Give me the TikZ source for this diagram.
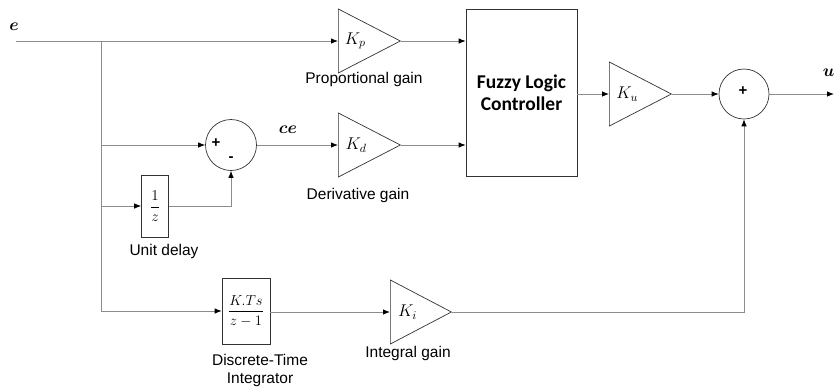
\RequirePackage{fix-cm}
\documentclass[tikz,border=0pt]{standalone}
\usepackage{amsmath}
\usepackage{fontspec}
\setmainfont{Liberation Sans}
\newfontfamily\flcfont{Carlito}
\usetikzlibrary{arrows.meta,shapes.geometric}

\tikzset{
  wire/.style={draw=black!45, line width=0.8pt},
  arr/.style={wire, -{Latex[length=7pt,width=5.5pt,color=black]}},
  gain/.style={draw=black!80, line width=0.7pt, isosceles triangle,
    isosceles triangle stretches, shape border rotate=0, inner sep=0pt,
    minimum width=64pt, minimum height=62pt, anchor=lower side,
    font=\fontsize{17}{20}\selectfont},
  sumnode/.style={draw=black!80, line width=0.7pt, circle, minimum size=51pt, inner sep=0pt},
  blk/.style={draw=black!80, line width=0.7pt, rectangle, inner sep=0pt},
  lbl/.style={font=\fontsize{15.5}{18}\selectfont, align=center},
  sig/.style={font=\fontsize{17}{20}\selectfont},
  sgn/.style={font=\fontsize{15}{17}\bfseries},
}

\begin{document}
\begin{tikzpicture}[x=1pt,y=-1pt]
\useasboundingbox (0,0) rectangle (838,389);

% signal labels
\node[sig] (elbl) at (14,27) {$\boldsymbol{e}$};
\node[sig] (celbl) at (288,130) {$\boldsymbol{ce}$};
\node[sig, anchor=east] (ulbl) at (838,73) {$\boldsymbol{u}$};

% gain blocks and labels
\node[gain] (kp) at (338,41) {\hspace*{-2pt}$K_p$};
\node[lbl] (kplbl) at (364,79) {Proportional gain};

\node[gain] (kd) at (338,145) {\hspace*{-2pt}$K_d$};
\node[lbl] (kdlbl) at (358,195) {Derivative gain};

\node[gain, minimum height=61pt] (ki) at (390,312) {\hspace*{-2pt}$K_i$};
\node[lbl] (kilbl) at (408,353) {Integral gain};

\node[gain] (ku) at (609,94) {\hspace*{-2pt}$K_u$};

% summing junctions
\node[sumnode] (s1) at (231,145) {};
\node[sgn] (s1p) at (216,143) {+};
\node[sgn] (s1m) at (231,159) {-};

\node[sumnode, minimum size=50pt] (s2) at (744,94) {};
\node[sgn] (s2p) at (743,91) {+};

% discrete blocks
\node[blk, minimum width=27pt, minimum height=62pt] (ud) at (155,206)
  {\fontsize{15}{17}\selectfont$\dfrac{1}{z}$};
\node[lbl] (udlbl) at (164,251) {Unit delay};

\node[blk, minimum width=48pt, minimum height=66pt] (int) at (246,311)
  {\fontsize{14.5}{17}\selectfont$\dfrac{K.Ts}{z-1}$};
\node[lbl] (intlbl) at (260,370) {Discrete-Time\\Integrator};

% controller
\node[blk, minimum width=111pt, minimum height=167pt, align=center,
  font=\flcfont\bfseries\fontsize{19.5}{22}\selectfont] (flc) at (521.5,92.5)
  {Fuzzy Logic\\Controller};

% branch points and free ends
\coordinate (ein) at (16,41);
\coordinate (br) at (101,41);
\coordinate (uout) at (834,94);

% connectors
\draw[arr] (ein) -- (kp.lower side);
\draw[arr] (br) |- (s1.west);
\draw[arr] (br) |- (ud.west);
\draw[arr] (br) |- (int.west);
\draw[arr] (ud.east) -| (s1.south);
\draw[arr] (s1.east) -- (kd.lower side);
\draw[arr] (kp.apex) -- (kp.apex -| flc.west);
\draw[arr] (kd.apex) -- (kd.apex -| flc.west);
\draw[arr] (flc.east |- ku.lower side) -- (ku.lower side);
\draw[arr] (ku.apex) -- (s2.west);
\draw[arr] (s2.east) -- (uout);
\draw[arr] (int.east |- ki.lower side) -- (ki.lower side);
\draw[arr] (ki.apex) -| (s2.south);
\end{tikzpicture}
\end{document}
